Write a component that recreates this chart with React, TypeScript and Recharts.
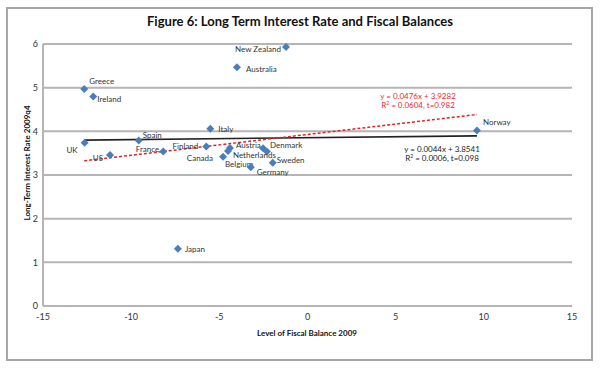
import { CartesianGrid, Scatter, ScatterChart, XAxis, YAxis } from "recharts";

const countries = [
  "New Zealand", "Australia", "Greece", "Ireland", "Italy", "UK", "Spain",
  "US", "France", "Finland", "Austria", "Belgium", "Canada", "Netherlands",
  "Denmark", "Germany", "Sweden", "Japan", "Norway",
];
const fiscalBalance = [
  -1.22, -4.0, -12.66, -12.15, -5.51, -12.64, -9.57, -11.2, -8.18, -5.74,
  -4.4, -4.51, -4.79, -2.3, -2.52, -3.22, -1.97, -7.35, 9.61,
];
const interestRate = [
  5.93, 5.47, 4.97, 4.8, 4.06, 3.74, 3.79, 3.46, 3.54, 3.65, 3.62, 3.55, 3.42,
  3.54, 3.61, 3.18, 3.28, 1.31, 4.02,
];

const xTicks = [-15, -10, -5, 0, 5, 10, 15];
const yTicks = [0, 1, 2, 3, 4, 5, 6];

// fitted lines as printed on the chart
const fitAll = { slope: 0.0044, intercept: 3.8541 };
const fitRed = { slope: 0.0476, intercept: 3.9282 };

const points = countries.map((name, i) => ({
  name,
  x: fiscalBalance[i],
  y: interestRate[i],
}));

const xMin = Math.min(...fiscalBalance);
const xMax = Math.max(...fiscalBalance);
const fitLine = (f: { slope: number; intercept: number }) =>
  [xMin, xMax].map((x) => ({ x, y: f.slope * x + f.intercept }));

// label placement relative to the marker
const labelPos: Record<string, [number, number, "start" | "end"]> = {
  "New Zealand": [-5, 2, "end"],
  Australia: [9, 2, "start"],
  Greece: [5, -8, "start"],
  Ireland: [4, 3, "start"],
  Italy: [8, 0, "start"],
  UK: [-7, 8, "end"],
  Spain: [4, -5, "start"],
  US: [-7, 3, "end"],
  France: [-4, -2, "end"],
  Finland: [-8, 0, "end"],
  Austria: [6, -3, "start"],
  Belgium: [-3, 13, "start"],
  Canada: [-10, 2, "end"],
  Netherlands: [-34, 4, "start"],
  Denmark: [7, -3, "start"],
  Germany: [6, 5, "start"],
  Sweden: [4, -3, "start"],
  Japan: [7, 0, "start"],
  Norway: [6, -8, "start"],
};

const font = "Lato, 'Open Sans', sans-serif";

function Marker(props: any) {
  const { cx, cy, payload } = props;
  const r = 4;
  const [dx, dy, anchor] = labelPos[payload.name] ?? [6, 0, "start"];
  return (
    <g>
      <path
        d={`M${cx},${cy - r}L${cx + r},${cy}L${cx},${cy + r}L${cx - r},${cy}Z`}
        fill="#4a7ebb"
      />
      <text
        x={cx + dx}
        y={cy + dy}
        dy="0.35em"
        textAnchor={anchor}
        fontSize={8}
        fontFamily={font}
        fill="#333"
      >
        {payload.name}
      </text>
    </g>
  );
}

const noShape = () => <g />;

export default function App() {
  return (
    <div
      style={{
        position: "absolute",
        left: 0,
        top: 0,
        width: 600,
        height: 368,
        background: "#fff",
        fontFamily: font,
      }}
    >
      <div
        style={{
          position: "absolute",
          left: 6,
          top: 7,
          width: 587,
          height: 354,
          boxSizing: "border-box",
          border: "2px solid #a6a6a6",
        }}
      />
      <ScatterChart
        width={600}
        height={368}
        margin={{ top: 44, right: 28, bottom: 42, left: 8 }}
      >
        <CartesianGrid vertical={false} stroke="#b5b5b5" strokeWidth={2} />
        <XAxis
          type="number"
          dataKey="x"
          domain={[-15, 15]}
          ticks={xTicks}
          axisLine={false}
          tickLine={false}
          tickSize={4}
          tickMargin={4}
          height={20}
          tick={{ fontSize: 9, fill: "#333", fontFamily: font }}
        />
        <YAxis
          type="number"
          dataKey="y"
          domain={[0, 6]}
          ticks={yTicks}
          axisLine={{ stroke: "#b5b5b5", strokeWidth: 2 }}
          tickLine={false}
          tickSize={2}
          tickMargin={3}
          width={35}
          tick={{ fontSize: 9, fill: "#333", fontFamily: font }}
        />
        <Scatter
          data={fitLine(fitAll)}
          fill="#222"
          line={{ stroke: "#222", strokeWidth: 1.6 }}
          shape={noShape}
          isAnimationActive={false}
        />
        <Scatter
          data={fitLine(fitRed)}
          fill="#e02424"
          line={{ stroke: "#e02424", strokeWidth: 1.5, strokeDasharray: "3 2" }}
          shape={noShape}
          isAnimationActive={false}
        />
        <Scatter data={points} fill="#4a7ebb" shape={Marker} isAnimationActive={false} />
      </ScatterChart>
      <svg
        width={600}
        height={368}
        style={{ position: "absolute", left: 0, top: 0, pointerEvents: "none" }}
        fontFamily={font}
      >
        <text
          x={300}
          y={21}
          dy="0.35em"
          textAnchor="middle"
          fontSize={14}
          fontWeight="bold"
          fill="#111"
          textLength={306}
          lengthAdjust="spacingAndGlyphs"
        >
          Figure 6: Long Term Interest Rate and Fiscal Balances
        </text>
        <text x={307} y={333} dy="0.35em" textAnchor="middle" fontSize={8} fontWeight="bold" fill="#111">
          Level of Fiscal Balance 2009
        </text>
        <text
          transform="translate(27,163) rotate(-90)"
          dy="0.35em"
          textAnchor="middle"
          fontSize={8}
          fontWeight="bold"
          fill="#111"
        >
          Long-Term Interest Rate 2009q4
        </text>
        <g fontSize={8} fill="#e0302f" textAnchor="middle">
          <text x={418} y={96} dy="0.35em">y = 0.0476x + 3.9282</text>
          <text x={418} y={105} dy="0.35em">
            R<tspan fontSize={5} dy="-3">2</tspan>
            <tspan dy="3"> = 0.0604, t=0.982</tspan>
          </text>
        </g>
        <g fontSize={8} fill="#222" textAnchor="middle">
          <text x={442} y={149} dy="0.35em">y = 0.0044x + 3.8541</text>
          <text x={442} y={158} dy="0.35em">
            R<tspan fontSize={5} dy="-3">2</tspan>
            <tspan dy="3"> = 0.0006, t=0.098</tspan>
          </text>
        </g>
      </svg>
    </div>
  );
}
